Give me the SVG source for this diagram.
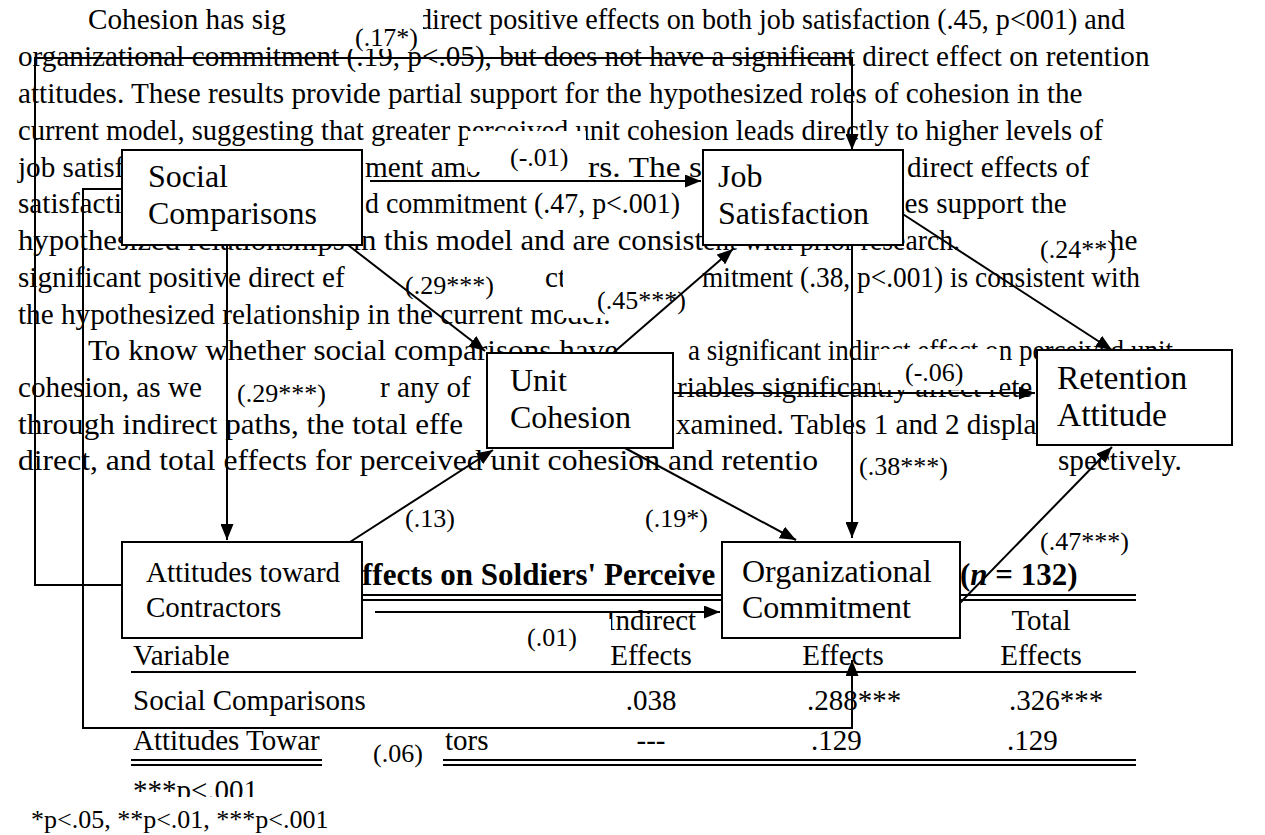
<svg xmlns="http://www.w3.org/2000/svg" width="1265" height="835" viewBox="0 0 1265 835" xml:space="preserve">
<style>
text{font-family:"Liberation Serif","Times New Roman",serif;fill:#000}
.b{font-size:29.2px}
.tb{font-size:29px}
.tt{font-size:31px;font-weight:bold}
.n{font-size:32px}
.l{font-size:26px}
.box{fill:#fff;stroke:#000;stroke-width:2}
.lr{fill:#fff}
.c{fill:none;stroke:#000;stroke-width:2}
.r{stroke:#000;stroke-width:2}
</style>
<defs><marker id="a" markerUnits="userSpaceOnUse" markerWidth="17" markerHeight="13" refX="16" refY="6.5" orient="auto"><path d="M0,0 L16,6.5 L0,13 z" fill="#000"/></marker></defs>
<rect width="1265" height="835" fill="#fff"/>
<g id="bodytext" class="b">
<text x="88" y="29">Cohesion has sig</text>
<text x="418" y="29" textLength="707" lengthAdjust="spacingAndGlyphs">direct positive effects on both job satisfaction (.45, p&lt;001) and</text>
<text x="18" y="66">organizational commitment (.19, p&lt;.05), but does not have a significant direct effect on retention</text>
<text x="18" y="103">attitudes.  These results provide partial support for the hypothesized roles of cohesion in the</text>
<text x="18" y="140" textLength="1085" lengthAdjust="spacingAndGlyphs">current model, suggesting that greater perceived unit cohesion leads directly to higher levels of</text>
<text x="18" y="176.5">job satisf</text>
<text x="365" y="176.5">ment amo</text>
<text x="588" y="176.5" textLength="114" lengthAdjust="spacingAndGlyphs">rs.  The s</text>
<text x="907" y="176.5">direct effects of</text>
<text x="18" y="213">satisfacti</text>
<text x="365" y="213" textLength="315" lengthAdjust="spacingAndGlyphs">d commitment (.47, p&lt;.001)</text>
<text x="890" y="213">des support the</text>
<text x="18" y="250" textLength="685" lengthAdjust="spacingAndGlyphs">hypothesized relationships in this model and are consist</text>
<text x="703" y="250" textLength="257" lengthAdjust="spacingAndGlyphs">ent with prior research.</text>
<text x="1092" y="250">The</text>
<text x="18" y="287">significant positive direct ef</text>
<text x="545" y="287">ct</text>
<text x="702" y="287" textLength="438" lengthAdjust="spacingAndGlyphs">mitment (.38, p&lt;.001) is consistent with</text>
<text x="18" y="323.5">the hypothesized relationship in the current model.</text>
<text x="88" y="360" textLength="530" lengthAdjust="spacingAndGlyphs">To know whether social comparisons have</text>
<text x="688" y="360" textLength="485" lengthAdjust="spacingAndGlyphs">a significant indirect effect on perceived unit</text>
<text x="18" y="397">cohesion, as we</text>
<text x="380" y="397">r any of</text>
<text x="677" y="397">riables significantly affect rete</text>
<text x="18" y="433.5" textLength="445" lengthAdjust="spacingAndGlyphs">through indirect paths, the total effe</text>
<text x="676" y="433.5">xamined.  Tables 1 and 2 displa</text>
<text x="18" y="470" textLength="800" lengthAdjust="spacingAndGlyphs">direct, and total effects for perceived unit cohesion and retentio</text>
<text x="1058" y="470">spectively.</text>
</g>
<g id="table">
<text class="tt" x="362" y="585">ffects on Soldiers' Perceive</text>
<text class="tt" x="960" y="585">(<tspan font-style="italic">n</tspan> = 132)</text>
<line class="r" x1="131" y1="595" x2="1136" y2="595"/>
<line class="r" x1="131" y1="600" x2="1136" y2="600"/>
<text class="tb" x="651" y="630" text-anchor="middle">Indirect</text>
<text class="tb" x="1041" y="630" text-anchor="middle">Total</text>
<text class="tb" x="133" y="665">Variable</text>
<text class="tb" x="651" y="665" text-anchor="middle">Effects</text>
<text class="tb" x="843" y="665" text-anchor="middle">Effects</text>
<text class="tb" x="1041" y="665" text-anchor="middle">Effects</text>
<line class="r" x1="131" y1="672" x2="1136" y2="672"/>
<text class="tb" x="133" y="710">Social Comparisons</text>
<text class="tb" x="651" y="710" text-anchor="middle">.038</text>
<text class="tb" x="807" y="710">.288***</text>
<text class="tb" x="1009" y="710">.326***</text>
<text class="tb" x="133" y="750">Attitudes Towar</text>
<text class="tb" x="445" y="750">tors</text>
<text class="tb" x="651" y="750" text-anchor="middle">---</text>
<text class="tb" x="811" y="750">.129</text>
<text class="tb" x="1007" y="750">.129</text>
<line class="r" x1="131" y1="760" x2="1136" y2="760"/>
<line class="r" x1="131" y1="765" x2="1136" y2="765"/>
<text class="tb" x="133" y="800">***p&lt;.001</text>
<rect class="lr" x="0" y="797" width="345" height="38"/>
<text class="l" x="31" y="828">*p&lt;.05, **p&lt;.01, ***p&lt;.001</text>
</g>
<g id="label-boxes">
<rect class="lr" x="290" y="6" width="133" height="43"/>
<rect class="lr" x="468" y="131" width="118" height="41"/>
<rect class="lr" x="348" y="264" width="194" height="36"/>
<rect class="lr" x="563" y="268" width="139" height="50"/>
<rect class="lr" x="1033" y="228" width="78" height="34"/>
<rect class="lr" x="846" y="441" width="211" height="39"/>
<rect class="lr" x="880" y="349" width="120" height="41"/>
<rect class="lr" x="203" y="370" width="175" height="38"/>
<rect class="lr" x="500" y="619" width="111" height="33"/>
<rect class="lr" x="322" y="733" width="121" height="37"/>
</g>
<g id="connectors" class="c" marker-end="url(#a)">
<path d="M122,585 H35 V58 H852 V150"/>
<path d="M370,181 H701"/>
<path d="M348,245 L485,351"/>
<path d="M613,353 L733,249"/>
<path d="M895,209 L1112,350"/>
<path d="M852,245 V538"/>
<path d="M673,393 H1035"/>
<path d="M350,542 L493,450"/>
<path d="M625,448 L796,540"/>
<path d="M958,605 L1112,447"/>
<path d="M375,612 H720"/>
<path d="M122,189 H83 V728 H852 V660"/>
<path d="M227,245 V540"/>
</g>
<g id="labels" class="l">
<text x="355" y="46">(.17*)</text>
<text x="510" y="166">(-.01)</text>
<text x="405" y="294">(.29***)</text>
<text x="597" y="309">(.45***)</text>
<text x="1040" y="258">(.24**)</text>
<text x="859" y="475">(.38***)</text>
<text x="905" y="381">(-.06)</text>
<text x="237" y="402">(.29***)</text>
<text x="405" y="527">(.13)</text>
<text x="645" y="527">(.19*)</text>
<text x="1040" y="550">(.47***)</text>
<text x="527" y="646">(.01)</text>
<text x="373" y="762">(.06)</text>
</g>
<g id="social-comparisons" class="n">
<rect class="box" x="122" y="150" width="240" height="95"/>
<text x="148" y="187">Social</text>
<text x="148" y="224">Comparisons</text>
</g>
<g id="job-satisfaction" class="n">
<rect class="box" x="703" y="150" width="200" height="95"/>
<text x="718" y="187">Job</text>
<text x="718" y="224">Satisfaction</text>
</g>
<g id="unit-cohesion" class="n">
<rect class="box" x="487" y="353" width="186" height="95"/>
<text x="510" y="391">Unit</text>
<text x="510" y="428">Cohesion</text>
</g>
<g id="retention-attitude" style="font-size:33.5px">
<rect class="box" x="1037" y="350" width="195" height="95"/>
<text x="1057" y="389">Retention</text>
<text x="1057" y="426">Attitude</text>
</g>
<g id="attitudes-toward-contractors" style="font-size:29px">
<rect class="box" x="122" y="542" width="240" height="96"/>
<text x="146" y="582">Attitudes toward</text>
<text x="146" y="617">Contractors</text>
</g>
<g id="organizational-commitment" class="n">
<rect class="box" x="722" y="542" width="238" height="96"/>
<text x="742" y="582">Organizational</text>
<text x="742" y="618">Commitment</text>
</g>
</svg>
